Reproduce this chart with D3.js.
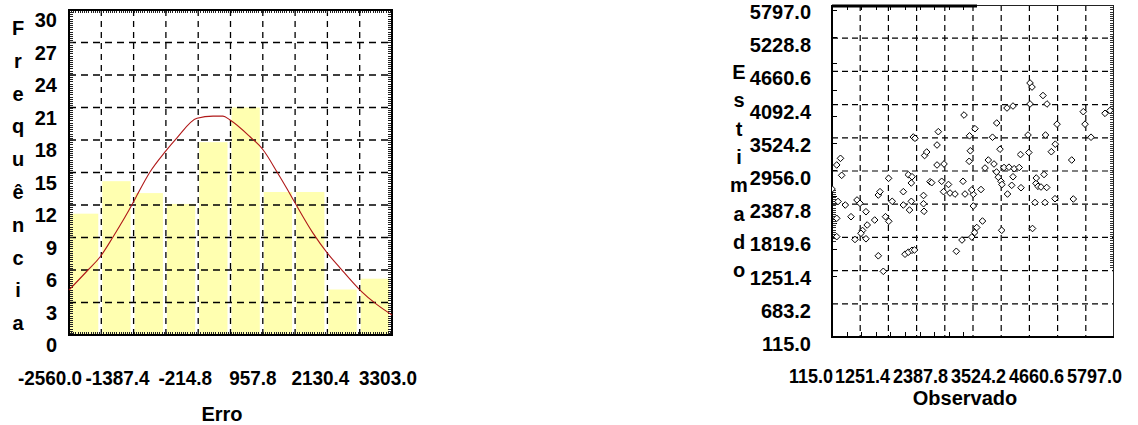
<!DOCTYPE html>
<html><head><meta charset="utf-8">
<script src="https://cdn.jsdelivr.net/npm/d3@7"></script>
<style>
body{margin:0;background:#fff}
text{font-family:"Liberation Sans",Arial,sans-serif;font-weight:bold;fill:#000}
</style>
</head><body>
<svg id="c" width="1138" height="425"></svg>
<script>
// ---------- data: histogram ----------
const erroEdges = [-2560.0,-1973.7,-1387.4,-801.1,-214.8,371.5,957.8,1544.1,2130.4,2716.7,3303.0];
const freq = [11.2,14.2,13.1,12.1,17.8,21.0,13.2,13.2,4.2,5.2];
const erroTickLabels = ["-2560.0","-1387.4","-214.8","957.8","2130.4","3303.0"];
const freqTicks = [0,3,6,9,12,15,18,21,24,27,30];
const curveErro = [-2560,-2215,-1997,-1761,-1398,-1326,-1090,-817,-600,-237,54,235,363,726,962,1216,1397,1542,1869,2123,2359,2722,3031,3303];
const curveFreq = [4.15,6.0,7.2,9.05,12.2,12.9,15.05,16.9,18.2,20.0,20.2,20.2,19.85,18.3,17.1,15.05,13.5,12.2,9.4,7.6,6.2,4.15,2.8,1.85];
const freqTitle = ["F","r","e","q","u","ê","n","c","i","a"];
// ---------- data: scatter ----------
const obsTickLabels = ["115.0","1251.4","2387.8","3524.2","4660.6","5797.0"];
const estTickLabels = ["115.0","683.2","1251.4","1819.6","2387.8","2956.0","3524.2","4092.4","4660.6","5228.8","5797.0"];
const estTitle = ["E","s","t","i","m","a","d","o"];
const observado = [4105,4145,4366,4447,4105,3641,3762,2775,5178,5616,5716,5213,4649,3434,2996,2886,3349,4064,4417,4614,5334,3500,3913,4080,4534,2902,2879,4945,3264,3379,3198,3581,3681,3786,3887,3430,2755,3466,3520,3540,3762,3736,3923,4225,4266,4326,4441,4387,4231,2372,2325,2462,2362,2493,2593,2795,2962,2930,3117,3651,4608,4977,2962,4205,4407,3147,3031,2990,2930,3534,4155,2734,2620,236,383,619,679,800,498,210,975,824,730,699,578,800,210,1193,1259,1048,1082,1328,1552,1677,1713,1552,1959,1959,1969,1048,1149,1586,1652,1727,1777,1753,1787,2257,2231,1981,2023,286,210,310,2231,115,1652,1727,1713,1255,2090,2124];
const estimado = [4462,4393,4248,4103,4103,4034,4068,3914,3971,3943,3991,3757,3757,3777,3680,3558,3534,3572,3572,3415,3534,3329,3238,3273,3286,3302,3122,3144,3144,3076,3007,3016,3021,2995,3016,2939,2780,2850,2780,2725,2858,2711,2670,2745,2694,2682,2674,2896,2836,3076,2780,2725,2602,2579,2562,2562,2557,2631,2639,2562,2482,2477,2357,2417,2417,2100,1989,1903,1826,1941,1972,1775,1582,2434,2374,2460,2403,2259,2174,2146,2117,2032,1938,1890,1784,1796,1832,2174,2095,2545,2602,2437,2374,2288,2437,2602,2537,2396,2266,1505,1239,1532,1566,1599,1604,3538,3516,3629,3401,3221,3281,3173,3059,2882,3059,2648,2893,2858,2751,2831,2773,2756];

const svg = d3.select("#c");

// condensed tick labels: centres from a point scale, glyphs narrowed a little, never overlapping
function axisLabels(g, labels, centerScale, baseline, size, squeeze, minStart){
  const nodes = labels.map((lab,i)=>{
    const t = g.append("text").attr("y", baseline).attr("text-anchor","start")
      .style("font-size", size+"px").text(lab);
    const w = t.node().getComputedTextLength()*squeeze;
    t.attr("textLength", w).attr("lengthAdjust","spacingAndGlyphs");
    return {t, w, sx: centerScale(i) - w/2};
  });
  if (minStart !== undefined) nodes[0].sx = Math.max(nodes[0].sx, minStart);
  for (let i = nodes.length-2; i >= 0; i--) {
    nodes[i].sx = Math.min(nodes[i].sx, nodes[i+1].sx - nodes[i].w - 2);
  }
  nodes.forEach(n => n.t.attr("x", n.sx));
}

// ================= LEFT: histogram =================
const L = {x0:69, x1:392, y0:10, y1:335};
const x = d3.scaleLinear().domain([erroEdges[0], erroEdges[erroEdges.length-1]]).range([L.x0, L.x1]);
const y = d3.scaleLinear().domain([0,30]).range([L.y1, L.y0]);
const gL = svg.append("g");

gL.selectAll("rect.bar").data(freq).join("rect")
  .attr("x", (d,i)=> x(erroEdges[i]) + 1)
  .attr("width", (d,i)=> x(erroEdges[i+1]) - x(erroEdges[i]) - 4)
  .attr("y", d=> y(d)).attr("height", d=> y(0)-y(d))
  .attr("fill", "#ffffb0");

gL.selectAll("line.hg").data(freqTicks.slice(1,-1)).join("line")
  .attr("x1", L.x0).attr("x2", L.x1).attr("y1", d=>y(d)).attr("y2", d=>y(d))
  .attr("stroke","#000").attr("stroke-width",1.3).attr("stroke-dasharray","7,5");
gL.selectAll("line.vg").data(erroEdges.slice(1,-1)).join("line")
  .attr("y1", L.y0).attr("y2", L.y1).attr("x1", d=>x(d)).attr("x2", d=>x(d))
  .attr("stroke","#000").attr("stroke-width",1.3).attr("stroke-dasharray","6,5");

const tickYs = d3.range(0, 30.001, 0.2);
gL.selectAll("line.lt").data(tickYs).join("line")
  .attr("x1", L.x0).attr("x2", L.x0+4).attr("y1", d=>Math.round(y(d))+0.5).attr("y2", d=>Math.round(y(d))+0.5)
  .attr("stroke","#222").attr("stroke-width",1);
gL.selectAll("line.rt").data(tickYs).join("line")
  .attr("x1", L.x1-4).attr("x2", L.x1).attr("y1", d=>Math.round(y(d))+0.5).attr("y2", d=>Math.round(y(d))+0.5)
  .attr("stroke","#222").attr("stroke-width",1);
const tickXs = d3.range(0, 151).map(i => erroEdges[0] + i*(erroEdges[10]-erroEdges[0])/150);
gL.selectAll("line.tt").data(tickXs).join("line")
  .attr("y1", L.y0).attr("y2", L.y0+3).attr("x1", d=>Math.round(x(d))+0.5).attr("x2", d=>Math.round(x(d))+0.5)
  .attr("stroke","#222").attr("stroke-width",1);
gL.selectAll("line.bt").data(tickXs).join("line")
  .attr("y1", L.y1-3).attr("y2", L.y1).attr("x1", d=>Math.round(x(d))+0.5).attr("x2", d=>Math.round(x(d))+0.5)
  .attr("stroke","#222").attr("stroke-width",1);

gL.append("rect").attr("x",L.x0).attr("y",L.y0).attr("width",L.x1-L.x0).attr("height",L.y1-L.y0)
  .attr("fill","none").attr("stroke","#000").attr("stroke-width",2);

gL.append("path")
  .datum(curveErro.map((v,i)=>[v,curveFreq[i]]))
  .attr("d", d3.line().x(d=>x(d[0])).y(d=>y(d[1])).curve(d3.curveMonotoneX))
  .attr("fill","none").attr("stroke","#b01818").attr("stroke-width",1.1);

gL.selectAll("text.yl").data(freqTicks).join("text")
  .attr("x", 57).attr("y", d=> y(d)+17).attr("text-anchor","end")
  .style("font-size","20px").text(d=>d);

// x labels: spread slightly wider than the ticks (as in the original)
const xLabC = d3.scaleLinear().domain([0, erroTickLabels.length-1]).range([50, 388]);
axisLabels(gL, erroTickLabels, xLabC, 385, 21, 0.9);
gL.append("text").attr("x", 222).attr("y", 421).attr("text-anchor","middle").style("font-size","20px").text("Erro");

gL.selectAll("text.tl").data(freqTitle).join("text")
  .attr("x", 18).attr("y", (d,i)=> 35 + i*32.8).attr("text-anchor","middle")
  .style("font-size","20px").text(d=>d);

// ================= RIGHT: scatter =================
const R = {x0:832, x1:1114, y0:5, y1:337};
const x2 = d3.scaleLinear().domain([115,5797]).range([R.x0, R.x1]);
const y2 = d3.scaleLinear().domain([115,5797]).range([R.y1, R.y0]);
const gR = svg.append("g");
const gridVals = d3.range(1,10).map(i => 115 + i*(5797-115)/10);

gR.selectAll("line.hg").data(gridVals).join("line")
  .attr("x1", R.x0).attr("x2", R.x1).attr("y1", d=>y2(d)).attr("y2", d=>y2(d))
  .attr("stroke","#000").attr("stroke-width",1.2).attr("stroke-dasharray","6,4");
gR.selectAll("line.vg").data(gridVals).join("line")
  .attr("y1", R.y0).attr("y2", R.y1).attr("x1", d=>x2(d)).attr("x2", d=>x2(d))
  .attr("stroke","#000").attr("stroke-width",1.2).attr("stroke-dasharray","6,4");

const rMinor = d3.range(R.y0, 268, 2.2);
gR.selectAll("line.rm").data(rMinor).join("line")
  .attr("x1", R.x1-4).attr("x2", R.x1).attr("y1", d=>Math.round(d)+0.5).attr("y2", d=>Math.round(d)+0.5)
  .attr("stroke","#333").attr("stroke-width",1);
const lMaj = d3.range(R.y0+5, R.y1-60, 26.6);
gR.selectAll("line.lm").data(lMaj).join("line")
  .attr("x1", R.x0).attr("x2", R.x0+5).attr("y1", d=>Math.round(d)+0.5).attr("y2", d=>Math.round(d)+0.5)
  .attr("stroke","#000").attr("stroke-width",1);
const lDense = d3.range(190, 242, 2.2);
gR.selectAll("line.ld").data(lDense).join("line")
  .attr("x1", R.x0).attr("x2", R.x0+4).attr("y1", d=>Math.round(d)+0.5).attr("y2", d=>Math.round(d)+0.5)
  .attr("stroke","#333").attr("stroke-width",1);
const bT = d3.range(R.x0+14.5, 977, 14.6);
gR.selectAll("line.bt").data(bT).join("line")
  .attr("y1", R.y1-5).attr("y2", R.y1).attr("x1", d=>Math.round(d)+0.5).attr("x2", d=>Math.round(d)+0.5)
  .attr("stroke","#000").attr("stroke-width",1);
gR.selectAll("line.tt").data(bT).join("line")
  .attr("y1", R.y0).attr("y2", R.y0+5).attr("x1", d=>Math.round(d)+0.5).attr("x2", d=>Math.round(d)+0.5)
  .attr("stroke","#000").attr("stroke-width",1);

gR.append("rect").attr("x",R.x0+0.5).attr("y",R.y0+0.5).attr("width",R.x1-R.x0-1).attr("height",R.y1-R.y0-1)
  .attr("fill","none").attr("stroke","#222").attr("stroke-width",1);
gR.append("line").attr("x1",R.x0).attr("x2",R.x0).attr("y1",R.y0).attr("y2",R.y1+1).attr("stroke","#000").attr("stroke-width",2);
gR.append("line").attr("x1",R.x0).attr("x2",R.x1).attr("y1",R.y1).attr("y2",R.y1).attr("stroke","#000").attr("stroke-width",2);
gR.append("line").attr("x1",R.x0).attr("x2",977).attr("y1",R.y0+1).attr("y2",R.y0+1).attr("stroke","#000").attr("stroke-width",3);

svg.append("defs").append("clipPath").attr("id","clipR").append("rect")
  .attr("x",R.x0).attr("y",R.y0).attr("width",R.x1-R.x0).attr("height",R.y1-R.y0);
const diamond = d3.symbol().type(d3.symbolDiamond2).size(28);
gR.append("g").attr("clip-path","url(#clipR)")
  .selectAll("path").data(observado.map((v,i)=>[v,estimado[i]])).join("path")
  .attr("transform", d=>`translate(${x2(d[0])},${y2(d[1])})`)
  .attr("d", diamond).attr("fill","#fff").attr("stroke","#000").attr("stroke-width",1);

gR.selectAll("text.tl").data(estTitle).join("text")
  .attr("x", 739).attr("y", (d,i)=> 79 + i*28.3).attr("text-anchor","middle")
  .style("font-size","20px").text(d=>d);
gR.selectAll("text.yl").data(estTickLabels).join("text")
  .attr("x", 811).attr("y", d=> y2(+d)+14).attr("text-anchor","end")
  .style("font-size","20px").text(d=>d);

const x2LabC = d3.scaleLinear().domain([0, obsTickLabels.length-1]).range([804.5, 1094.5]);
axisLabels(gR, obsTickLabels, x2LabC, 383, 20, 0.9, 800);
gR.append("text").attr("x", 965).attr("y", 405).attr("text-anchor","middle").style("font-size","20px").text("Observado");
</script>
</body></html>
